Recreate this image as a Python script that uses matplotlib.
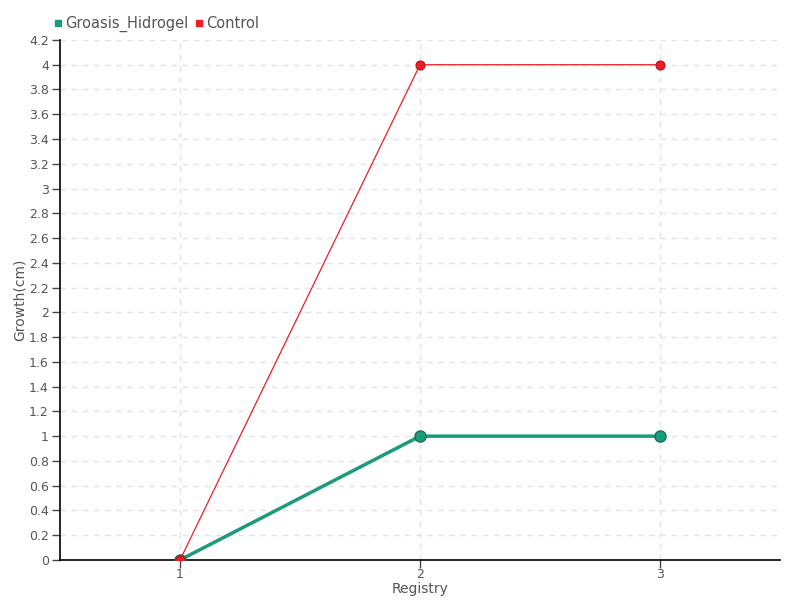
import matplotlib
matplotlib.use("Agg")
import matplotlib.pyplot as plt
from matplotlib.lines import Line2D

registry = [1, 2, 3]
groasis_hidrogel = [0, 1, 1]
control = [0, 4, 4]
y_ticks = [round(0.2 * i, 1) for i in range(22)]

GREEN = "#1b9a7c"
RED = "#ee1c25"
TEXT = "#555555"

plt.rcParams["font.family"] = ["DejaVu Sans"]

fig = plt.figure(figsize=(8, 6), dpi=100)
ax = fig.add_axes([0.075, 0.0667, 0.9, 0.8667])

ax.plot(registry, groasis_hidrogel, color=GREEN, linewidth=2.5, marker="o",
        markersize=8, markerfacecolor=GREEN, markeredgecolor="#146f59",
        markeredgewidth=1, zorder=3)
ax.plot(registry, control, color=RED, linewidth=0.9, marker="o",
        markersize=6.5, markerfacecolor=RED, markeredgecolor="#b3141b",
        markeredgewidth=0.8, zorder=4)

ax.set_xlim(0.5, 3.5)
ax.set_ylim(0, 4.2)
ax.set_xticks(registry)
ax.set_yticks(y_ticks)
ax.set_yticklabels([f"{v:g}" for v in y_ticks])

ax.grid(True, color="#e3e3e3", linestyle=(0, (4, 4)), linewidth=1)
ax.set_axisbelow(True)
for side in ["top", "right"]:
    ax.spines[side].set_visible(False)
for side in ["left", "bottom"]:
    ax.spines[side].set_color("black")
    ax.spines[side].set_linewidth(1.2)

ax.tick_params(axis="both", colors="#444444", labelcolor=TEXT, labelsize=9,
               length=6, width=1)
ax.tick_params(axis="x", pad=0)
ax.tick_params(axis="y", pad=2)

ax.set_xlabel("Registry", color=TEXT, fontsize=10, va="top")
ax.xaxis.set_label_coords(0.5, -0.043)
ax.set_ylabel("Growth(cm)", color=TEXT, fontsize=10, va="center")
ax.yaxis.set_label_coords(-0.056, 0.5)

handles = [
    Line2D([], [], linestyle="none", marker="s", markersize=4.5,
           color=GREEN, label="Groasis_Hidrogel"),
    Line2D([], [], linestyle="none", marker="s", markersize=4.5,
           color=RED, label="Control"),
]
fig.legend(handles=handles, loc="upper left", bbox_to_anchor=(0.052, 0.995),
           ncol=2, frameon=False, fontsize=10.5, labelcolor=TEXT,
           handlelength=0.5, handletextpad=0.2, columnspacing=0.5)

fig.savefig("out.png", dpi=100)
